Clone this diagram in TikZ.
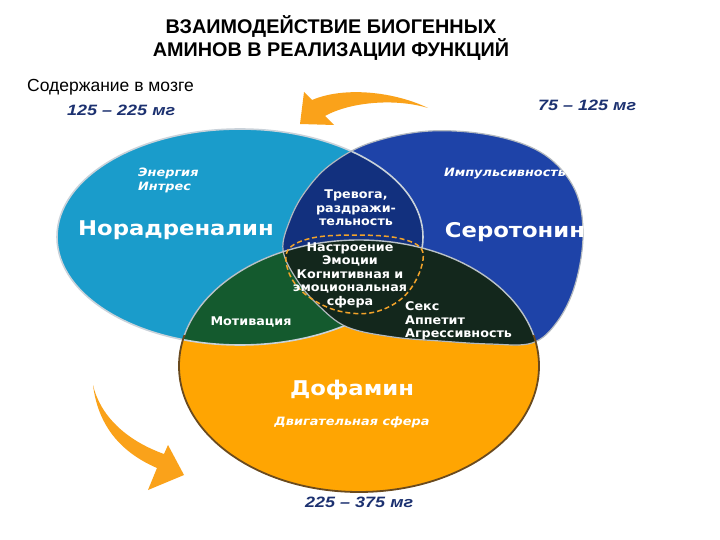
\documentclass[tikz,border=0pt]{standalone}
\usepackage{fontspec}
\setmainfont{Liberation Sans}
\newfontfamily\labf[FakeStretch=1.12]{DejaVu Sans}
\newfontfamily\labs[FakeStretch=1.06]{DejaVu Sans}
\newfontfamily\mgf[FakeStretch=1.2]{Liberation Sans}
\definecolor{cyanN}{HTML}{1A9CCB}
\definecolor{blueS}{HTML}{1E43A8}
\definecolor{navyNS}{HTML}{12307E}
\definecolor{greenND}{HTML}{145A2E}
\definecolor{darkSD}{HTML}{13271C}
\definecolor{orangeD}{HTML}{FFA502}
\definecolor{arrowC}{HTML}{FAA21A}
\definecolor{mgC}{HTML}{1C3170}
\definecolor{edgeL}{HTML}{C9D2DA}
\definecolor{edgeB}{HTML}{6A4A1E}
\definecolor{ringC}{HTML}{F2A32A}
\tikzset{
  big/.style={text=white,font=\labf\bfseries\fontsize{20.3}{24}\selectfont,inner sep=0pt},
  small/.style={text=white,font=\labs\bfseries\fontsize{12}{13.5}\selectfont,inner sep=0pt,align=center},
  smallit/.style={text=white,font=\labf\bfseries\itshape\fontsize{11.5}{14}\selectfont,inner sep=0pt,align=left},
  mg/.style={text=mgC,font=\mgf\bfseries\itshape\fontsize{15}{17}\selectfont,inner sep=0pt},
}
\begin{document}
\begin{tikzpicture}[x=1pt,y=-1pt]
\fill[white] (0,0) rectangle (720,540);
\path[use as bounding box] (0,0) rectangle (720,540);
\def\cyanP{(240,237) ellipse [x radius=183, y radius=108]}
\def\seroP{plot[smooth cycle,tension=0.6] coordinates{(283,250) (290,220) (305,192) (330,165) (370,143) (430,131) (495,136) (545,155) (575,190) (583,235) (575,285) (557,322) (532,343) (490,344) (440,341) (393,337) (347,327) (318,305) (297,280)}}
\def\dopaP{(359,366) ellipse [x radius=180, y radius=126]}
% fills
\fill[orangeD] \dopaP;
\fill[cyanN] \cyanP;
\fill[blueS] \seroP;
\begin{scope}\clip \cyanP; \fill[navyNS] \seroP; \end{scope}
\begin{scope}\clip \cyanP; \fill[greenND] \dopaP; \end{scope}
\draw[edgeL,line width=1.6pt] \cyanP;
\begin{scope}\clip \seroP; \fill[darkSD] \dopaP; \end{scope}
\draw[edgeL!70!gray,line width=1.2pt] \seroP;
\begin{scope}\clip (0,0) rectangle (720,335); \draw[edgeL!80!gray,line width=1.4pt] \dopaP; \end{scope}
\begin{scope}\clip (0,335) rectangle (720,540); \draw[edgeB,line width=1.8pt] \dopaP; \end{scope}
% dashed ring
\draw[ringC,line width=1.5pt,dash pattern=on 5pt off 3pt] plot[smooth cycle,tension=0.6] coordinates{(288,250) (312,238) (354,235) (398,238) (422,250) (418,276) (400,300) (370,313) (335,310) (305,294) (289,273)};
% arrows
\fill[arrowC] (428,108) .. controls (395,92) and (345,86) .. (312,100) -- (304,92) -- (300,124) -- (334,125) -- (325,116) .. controls (350,102) and (395,98) .. (428,108) -- cycle;
\fill[arrowC] (93,385) .. controls (98,425) and (120,452) .. (157,468) -- (148,490) -- (184,475) -- (168,445) -- (164,454) .. controls (125,440) and (100,415) .. (93,385) -- cycle;
% texts
\node[font=\bfseries\fontsize{19.8}{21}\selectfont,align=center,inner sep=0pt] (title) at (331,38) {ВЗАИМОДЕЙСТВИЕ БИОГЕННЫХ\\АМИНОВ В РЕАЛИЗАЦИИ ФУНКЦИЙ};
\node[font=\fontsize{17.5}{19}\selectfont,anchor=base west,inner sep=0pt] (cont) at (27,92) {Содержание в мозге};
\node[mg,anchor=base west] (mg1) at (67,116) {125 – 225 мг};
\node[mg,anchor=base west] (mg2) at (538,111) {75 – 125 мг};
\node[mg,anchor=base west] (mg3) at (305,507) {225 – 375 мг};
\node[big] (nor) at (176,230) {Норадреналин};
\node[big] (ser) at (515,232) {Серотонин};
\node[big] (dof) at (352,390) {Дофамин};
\node[smallit,anchor=west] (en) at (138,180) {Энергия\\Интрес};
\node[smallit] (imp) at (505,174) {Импульсивность};
\node[small] (trev) at (356,208) {Тревога,\\раздражи-\\тельность};
\node[small] (nast) at (350,275) {Настроение\\Эмоции\\Когнитивная и\\эмоциональная\\сфера};
\node[small] (mot) at (251,322) {Мотивация};
\node[small,align=left,anchor=west] (sex) at (405,321) {Секс\\Аппетит\\Агрессивность};
\node[smallit] (dvig) at (352,422) {Двигательная сфера};
\end{tikzpicture}
\end{document}
